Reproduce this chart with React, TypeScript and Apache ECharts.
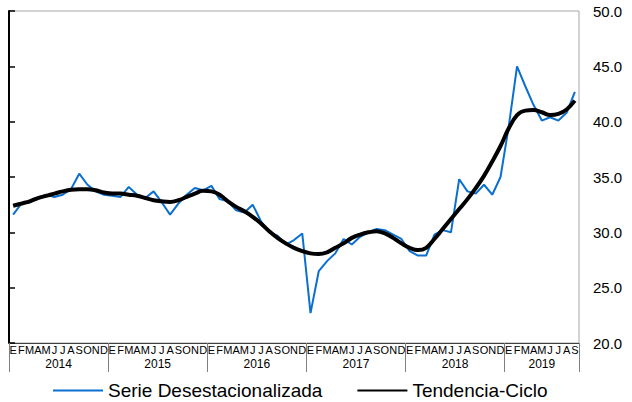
import React, { useEffect, useRef } from "react";
import * as echarts from "echarts";

const monthLetters = ["E", "F", "M", "A", "M", "J", "J", "A", "S", "O", "N", "D"];
const years = ["2014", "2015", "2016", "2017", "2018", "2019"];
const monthsPerYear = [12, 12, 12, 12, 12, 9];

const sa2014 = [31.6, 32.6, 32.7, 33.1, 33.4, 33.2, 33.4, 33.9, 35.3, 34.3, 33.7, 33.4];
const sa2015 = [33.3, 33.2, 34.1, 33.4, 33.1, 33.7, 32.7, 31.6, 32.6, 33.4, 34.0, 33.8];
const sa2016 = [34.2, 33.0, 32.8, 32.0, 31.8, 32.5, 31.0, 30.0, 29.7, 28.9, 29.3, 29.9];
const sa2017 = [22.7, 26.5, 27.4, 28.1, 29.4, 28.9, 29.6, 30.0, 30.3, 30.2, 29.8, 29.4];
const sa2018 = [28.3, 27.9, 27.9, 29.8, 30.2, 30.0, 34.8, 33.7, 33.5, 34.3, 33.4, 35.0];
const sa2019 = [39.6, 45.0, 43.2, 41.5, 40.1, 40.4, 40.1, 40.8, 42.7];

const tc2014 = [32.4, 32.6, 32.8, 33.1, 33.3, 33.5, 33.7, 33.85, 33.9, 33.9, 33.8, 33.6];
const tc2015 = [33.5, 33.5, 33.4, 33.3, 33.1, 32.9, 32.8, 32.75, 32.9, 33.2, 33.5, 33.75];
const tc2016 = [33.7, 33.4, 32.8, 32.3, 31.9, 31.4, 30.8, 30.1, 29.5, 29.0, 28.6, 28.3];
const tc2017 = [28.1, 28.05, 28.2, 28.6, 29.0, 29.5, 29.8, 30.0, 30.1, 29.9, 29.5, 29.0];
const tc2018 = [28.6, 28.4, 28.6, 29.4, 30.3, 31.2, 32.1, 33.0, 34.0, 35.1, 36.4, 37.8];
const tc2019 = [39.4, 40.6, 41.0, 41.05, 40.85, 40.6, 40.7, 41.1, 41.9];

const yTicks = { min: 20, max: 50, interval: 5 };
const seriesNames = ["Serie Desestacionalizada", "Tendencia-Ciclo"];

const saValues = [...sa2014, ...sa2015, ...sa2016, ...sa2017, ...sa2018, ...sa2019];
const tcValues = [...tc2014, ...tc2015, ...tc2016, ...tc2017, ...tc2018, ...tc2019];

const categories: string[] = [];
years.forEach((y, yi) => {
  for (let m = 0; m < monthsPerYear[yi]; m++) categories.push(monthLetters[m] + "-" + y);
});
const total = categories.length;

const yearCenters: { pos: number; label: string }[] = [];
{
  let start = 0;
  years.forEach((y, yi) => {
    yearCenters.push({ pos: start + monthsPerYear[yi] / 2, label: y });
    start += monthsPerYear[yi];
  });
}

const FONT = "Liberation Sans, Arial, sans-serif";

export default function App() {
  const ref = useRef<HTMLDivElement>(null);
  useEffect(() => {
    if (!ref.current) return;
    const chart = echarts.init(ref.current, null, { renderer: "svg" });
    chart.setOption({
      animation: false,
      textStyle: { fontFamily: FONT, color: "#000" },
      grid: {
        left: 9,
        right: 53,
        top: 11,
        bottom: 59,
        show: true,
        borderColor: "#A6A6A6",
        borderWidth: 1,
        containLabel: false,
      },
      legend: {
        left: 47,
        top: 376,
        itemWidth: 50,
        itemHeight: 14,
        itemGap: 34,
        textStyle: { fontSize: 19, color: "#000", fontFamily: FONT },
        itemStyle: { opacity: 0 },
        data: seriesNames,
      },
      xAxis: [
        {
          type: "category",
          data: categories,
          boundaryGap: true,
          position: "bottom",
          axisLine: { show: true, lineStyle: { color: "#404040", width: 1 } },
          axisTick: {
            show: true,
            interval: (index: number) => index % 12 === 0,
            length: 29,
            lineStyle: { color: "#808080", width: 1 },
          },
          axisLabel: {
            interval: 0,
            margin: 1,
            fontSize: 11,
            color: "#000",
            fontFamily: FONT,
            formatter: (v: string) => v.split("-")[0],
          },
          splitLine: { show: false },
        },
        {
          type: "value",
          min: 0,
          max: total,
          interval: 0.5,
          position: "bottom",
          axisLine: { show: false },
          axisTick: { show: false },
          splitLine: { show: false },
          axisLabel: {
            margin: 15,
            fontSize: 12,
            color: "#000",
            fontFamily: FONT,
            formatter: (v: number) => {
              const f = yearCenters.find((c) => Math.abs(c.pos - v) < 1e-6);
              return f ? f.label : "";
            },
          },
        },
      ],
      yAxis: {
        type: "value",
        position: "right",
        min: yTicks.min,
        max: yTicks.max,
        interval: yTicks.interval,
        axisLine: { show: true, lineStyle: { color: "#000", width: 2 } },
        axisTick: { show: true, inside: false, length: 6, lineStyle: { color: "#000", width: 1.5 } },
        axisLabel: {
          margin: 14,
          fontSize: 15,
          color: "#000",
          fontFamily: FONT,
          formatter: (v: number) => v.toFixed(1),
        },
        splitLine: { show: false },
      },
      series: [
        {
          name: seriesNames[0],
          type: "line",
          data: saValues,
          xAxisIndex: 0,
          symbol: "none",
          showSymbol: false,
          lineStyle: { color: "#0B6FD0", width: 2 },
          itemStyle: { color: "#0B6FD0" },
          z: 2,
        },
        {
          name: seriesNames[1],
          type: "line",
          data: tcValues,
          xAxisIndex: 0,
          symbol: "none",
          showSymbol: false,
          smooth: 0.4,
          lineStyle: { color: "#000", width: 4 },
          itemStyle: { color: "#000" },
          z: 3,
        },
      ],
    });
    return () => chart.dispose();
  }, []);
  return (
    <div
      ref={ref}
      style={{ position: "fixed", left: 0, top: 0, width: 632, height: 402, background: "#fff" }}
    />
  );
}
